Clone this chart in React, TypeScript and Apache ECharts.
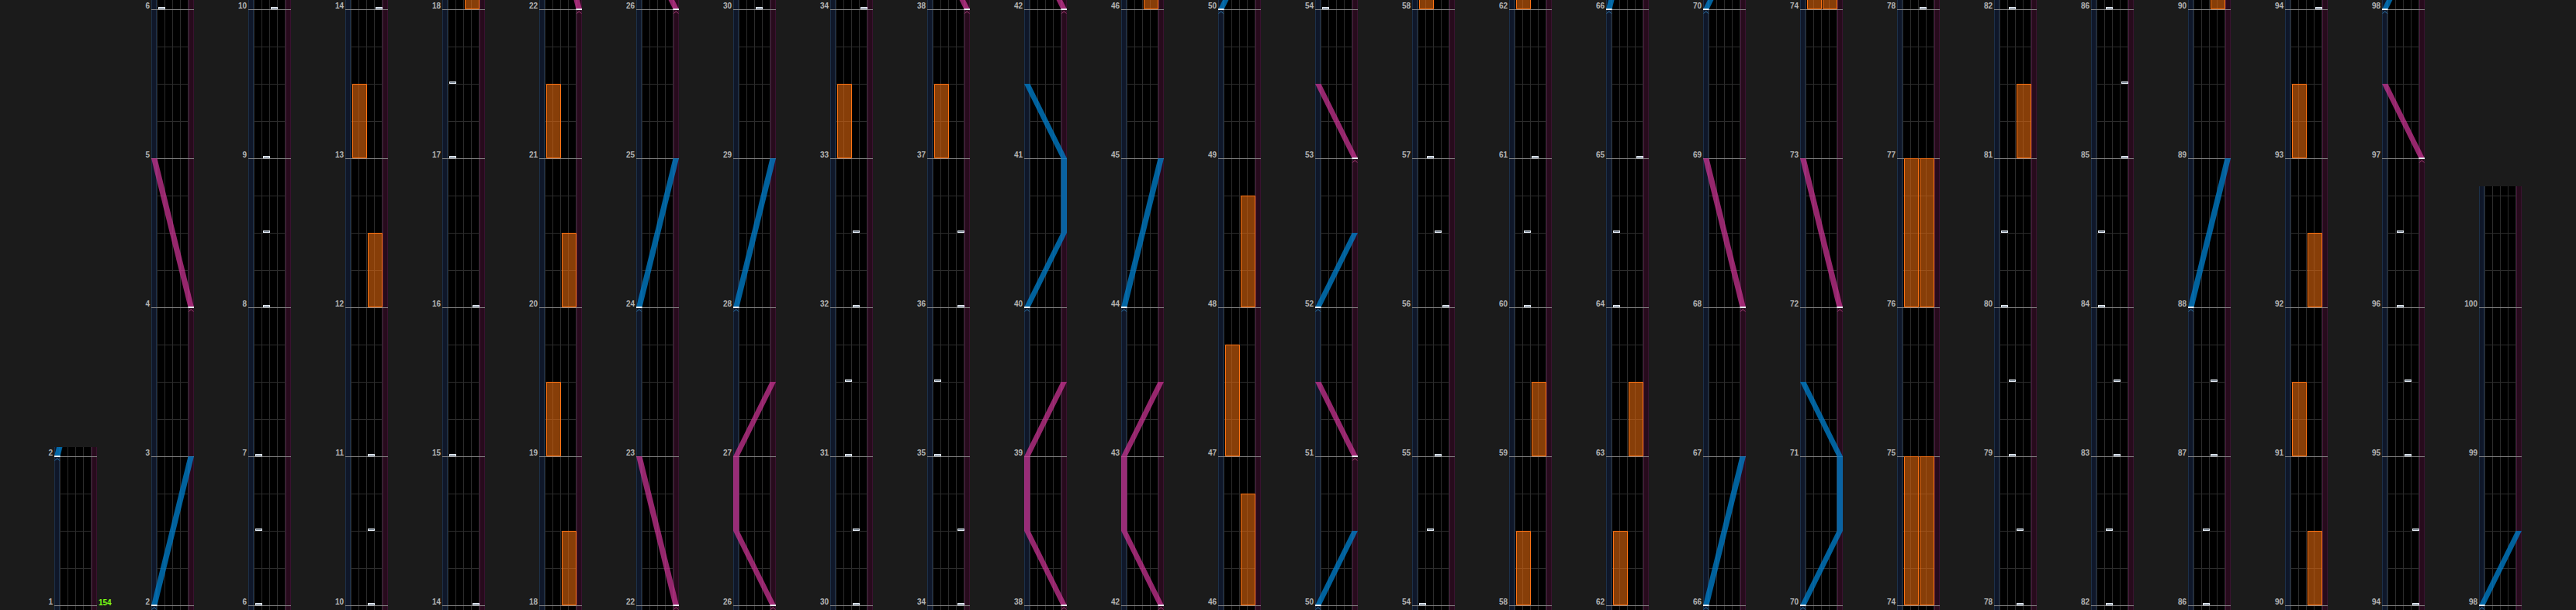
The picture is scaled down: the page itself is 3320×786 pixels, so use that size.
import React, { useEffect, useRef } from 'react';
import * as echarts from 'echarts';

// ---- chart data (measures) ----
const columnStarts = [1, 2, 6, 10, 14, 18, 22, 26, 30, 34, 38, 42, 46, 50, 54, 58, 62, 66, 70, 74, 78, 82, 86, 90, 94, 98];
const songEnd = 100.75;

// laser polylines: [measure, position 0(left)..1(right)]
const blueLasers: number[][][] = [
  [[2, 0], [3, 1]],
  [[24, 0], [25, 1]],
  [[28, 0], [29, 1]],
  [[40, 0], [40.5, 1], [41, 1], [41.5, 0]],
  [[44, 0], [45, 1]],
  [[50, 0], [50.5, 1]],
  [[52, 0], [52.5, 1]],
  [[66, 0], [67, 1]],
  [[70, 0], [70.5, 1], [71, 1], [71.5, 0]],
  [[88, 0], [89, 1]],
  [[98, 0], [98.5, 1]],
];
const pinkLasers: number[][][] = [
  [[4, 1], [5, 0]],
  [[22, 1], [23, 0]],
  [[26, 1], [26.5, 0], [27, 0], [27.5, 1]],
  [[38, 1], [38.5, 0], [39, 0], [39.5, 1]],
  [[42, 1], [42.5, 0], [43, 0], [43.5, 1]],
  [[51, 1], [51.5, 0]],
  [[53, 1], [53.5, 0]],
  [[68, 1], [69, 0]],
  [[72, 1], [73, 0]],
  [[97, 1], [97.5, 0]],
];
// FX holds: [start, end]
const fxLeft: number[][] = [
  [13, 13.5], [19, 19.5], [21, 21.5], [33, 33.5], [37, 37.5], [47, 47.75],
  [58, 58.5], [62, 62.5], [74, 75], [76, 77], [91, 91.5], [93, 93.5],
];
const fxRight: number[][] = [
  [12, 12.5], [18, 18.5], [20, 20.5], [46, 46.75], [48, 48.75], [59, 59.5],
  [63, 63.5], [74, 75], [76, 77], [81, 81.5], [90, 90.5], [92, 92.5],
];
// BT chips: [measure, lane 0..3]
const btChips: number[][] = [
  [6, 0], [6.5, 0], [7, 0], [8, 1], [8.5, 1], [9, 1], [10, 2], [10.5, 2], [11, 2],
  [14, 3], [15, 0], [16, 3], [17, 0], [17.5, 0],
  [30, 2], [30.5, 2], [31, 1], [31.5, 1], [32, 2], [32.5, 2],
  [34, 3], [34.5, 3], [35, 0], [35.5, 0], [36, 3], [36.5, 3],
  [54, 0], [54.5, 1], [55, 2], [56, 3], [56.5, 2], [57, 1],
  [60, 1], [60.5, 1], [61, 2], [64, 0], [64.5, 0], [65, 3],
  [78, 2], [78.5, 2], [79, 1], [79.5, 1], [80, 0], [80.5, 0],
  [82, 1], [82.5, 1], [83, 2], [83.5, 2], [84, 0], [84.5, 0], [85, 3], [85.5, 3],
  [86, 1], [86.5, 1], [87, 2], [87.5, 2],
  [94, 3], [94.5, 3], [95, 2], [95.5, 2], [96, 1], [96.5, 1],
];
const bpmChanges: number[][] = [[1, 154]];

// ---- layout / style constants ----
const X_MAX = 5.5;
const LANE_L = 0.75;
const LANE_R = 4.75;
const LASER_W = 0.75;
const laserX = (p: number) => LASER_W / 2 + p * (X_MAX - LASER_W);

const crisp = (v: number) => Math.floor(v) + 0.5;

function bgRender(params: any, api: any) {
  const lo = api.value(0);
  const hi = api.value(1);
  const cs = params.coordSys;
  const ch: any[] = [];
  ch.push({ type: 'rect', shape: { x: cs.x, y: cs.y, width: cs.width, height: cs.height }, style: { fill: '#000' } });
  const bl = api.coord([0, lo])[0];
  const l0 = api.coord([LANE_L, lo])[0];
  const l4 = api.coord([LANE_R, lo])[0];
  const pr = api.coord([X_MAX, lo])[0];
  ch.push({ type: 'rect', shape: { x: bl, y: cs.y, width: l0 - bl, height: cs.height }, style: { fill: '#0f1729' } });
  ch.push({ type: 'line', shape: { x1: crisp(bl), y1: cs.y, x2: crisp(bl), y2: cs.y + cs.height }, style: { stroke: '#1c3049', lineWidth: 1 } });
  ch.push({ type: 'line', shape: { x1: crisp(l0) - 1, y1: cs.y, x2: crisp(l0) - 1, y2: cs.y + cs.height }, style: { stroke: '#1c3049', lineWidth: 1 } });
  ch.push({ type: 'rect', shape: { x: l4, y: cs.y, width: pr - l4, height: cs.height }, style: { fill: '#270b1c' } });
  ch.push({ type: 'line', shape: { x1: crisp(l4) + 1, y1: cs.y, x2: crisp(l4) + 1, y2: cs.y + cs.height }, style: { stroke: '#45163a', lineWidth: 1 } });
  ch.push({ type: 'line', shape: { x1: crisp(pr) - 1, y1: cs.y, x2: crisp(pr) - 1, y2: cs.y + cs.height }, style: { stroke: '#3a1230', lineWidth: 1 } });
  for (let i = 0; i <= 4; i++) {
    const x = crisp(api.coord([LANE_L + i, lo])[0]);
    ch.push({ type: 'line', shape: { x1: x, y1: cs.y, x2: x, y2: cs.y + cs.height }, style: { stroke: '#2c2c2c', lineWidth: 1 } });
  }
  for (let q = Math.ceil(lo * 4); q <= Math.floor(hi * 4); q++) {
    const t = q / 4;
    const y = crisp(api.coord([0, t])[1]);
    if (q % 4 === 0) {
      ch.push({ type: 'line', shape: { x1: bl, y1: y, x2: pr, y2: y }, style: { stroke: '#8a8a8a', lineWidth: 1 }, z2: 10 });
    } else {
      ch.push({ type: 'line', shape: { x1: l0, y1: y, x2: l4, y2: y }, style: { stroke: '#2c2c2c', lineWidth: 1 } });
    }
  }
  return { type: 'group', children: ch };
}

function fxRender(params: any, api: any) {
  const side = api.value(0);
  const t0 = api.value(1);
  const t1 = api.value(2);
  const xa = LANE_L + side * 2;
  const p0 = api.coord([xa, t0]);
  const p1 = api.coord([xa + 2, t1]);
  const x = Math.round(p0[0]) + 1.5;
  const w = Math.round(p1[0]) - Math.round(p0[0]) - 2;
  const yTop = Math.round(p1[1]) + 0.5;
  const h = Math.round(p0[1]) - Math.round(p1[1]) - 1;
  return {
    type: 'rect',
    shape: { x, y: yTop, width: w, height: h },
    style: { fill: 'rgba(232,106,14,0.58)', stroke: '#ff7414', lineWidth: 1 },
  };
}

function chipRender(params: any, api: any) {
  const t = api.value(0);
  const lane = api.value(1);
  const a = api.coord([LANE_L + lane, t]);
  const b = api.coord([LANE_L + lane + 1, t]);
  const x = Math.round(a[0]) + 1;
  const w = Math.round(b[0]) - Math.round(a[0]) - 1;
  const y = Math.round(a[1]);
  return {
    type: 'group',
    children: [
      { type: 'rect', shape: { x, y: y - 3, width: w, height: 3 }, style: { fill: '#e4ebf3' } },
      { type: 'rect', shape: { x: x + 1, y: y - 2, width: w - 2, height: 1 }, style: { fill: '#6f7d8c' } },
    ],
  };
}

function makeLaserRender(lines: number[][][], fill: string, mark: string) {
  return (params: any, api: any) => {
    const line = lines[api.value(0)];
    const left: number[][] = [];
    const right: number[][] = [];
    line.forEach(([t, p]) => {
      const cx = laserX(p);
      left.push(api.coord([cx - LASER_W / 2, t]));
      right.push(api.coord([cx + LASER_W / 2, t]));
    });
    const pts = left.concat(right.slice().reverse());
    const s = left[0];
    const e = right[0];
    const cx = (s[0] + e[0]) / 2;
    const y = Math.round(s[1]);
    return {
      type: 'group',
      children: [
        { type: 'polygon', shape: { points: pts }, style: { fill } },
        { type: 'rect', shape: { x: s[0], y: y - 1, width: e[0] - s[0], height: 2 }, style: { fill: '#e8eef5' } },
        { type: 'polyline', shape: { points: [[cx - 3, y + 5.5], [cx, y + 2.5], [cx + 3, y + 5.5]] }, style: { stroke: mark, lineWidth: 1, fill: 'none' } },
      ],
    };
  };
}

function bpmRender(params: any, api: any) {
  const t = api.value(0);
  const bpm = api.value(1);
  const p = api.coord([X_MAX, t]);
  return {
    type: 'text',
    style: {
      x: p[0] + 2, y: p[1] + 1, text: String(bpm), fill: '#7dff14',
      fontSize: 10, fontWeight: 'bold', fontFamily: 'Liberation Sans',
      align: 'left', verticalAlign: 'bottom',
    },
  };
}

const isInt = (v: number) => Math.abs(v - Math.round(v)) < 1e-6;

function buildOption() {
  const grid: any[] = [];
  const xAxis: any[] = [];
  const yAxis: any[] = [];
  const series: any[] = [];
  const blueFill = 'rgba(0,128,205,0.76)';
  const pinkFill = 'rgba(206,52,150,0.72)';
  columnStarts.forEach((start, k) => {
    const end = k + 1 < columnStarts.length ? columnStarts[k + 1] : songEnd;
    const lo = start - 1 / 32;
    const hi = end + 2 / 32;
    grid.push({ left: 70 + 125 * k, width: 55, bottom: 0, height: (hi - lo) * 192, outerBoundsMode: 'none' });
    xAxis.push({ gridIndex: k, type: 'value', min: 0, max: X_MAX, show: false });
    yAxis.push({
      gridIndex: k, type: 'value', min: lo, max: hi, interval: 1 / 32,
      axisLine: { show: false }, axisTick: { show: false }, splitLine: { show: false },
      axisLabel: {
        show: true, margin: 2, color: '#b4b4b4', fontSize: 10, fontWeight: 'bold',
        fontFamily: 'Liberation Sans', verticalAlign: 'bottom', lineHeight: 10,
        formatter: (v: number) => (isInt(v) ? String(Math.round(v)) : ''),
      },
    });
    const ax = { xAxisIndex: k, yAxisIndex: k, silent: true, clip: true };
    series.push({ type: 'custom', ...ax, z: 1, data: [[lo, hi]], renderItem: bgRender });
    const fxData: number[][] = [];
    fxLeft.forEach(([a, b]) => { if (b >= lo && a <= hi) fxData.push([0, a, b]); });
    fxRight.forEach(([a, b]) => { if (b >= lo && a <= hi) fxData.push([1, a, b]); });
    series.push({ type: 'custom', ...ax, z: 2, data: fxData, renderItem: fxRender });
    series.push({
      type: 'custom', ...ax, z: 3,
      data: btChips.filter(([t]) => t >= lo - 0.05 && t <= hi + 0.05),
      renderItem: chipRender,
    });
    const inRange = (l: number[][]) => l[l.length - 1][0] >= lo && l[0][0] <= hi + 0.05;
    series.push({
      type: 'custom', ...ax, z: 4,
      data: blueLasers.map((l, i) => (inRange(l) ? [i] : null)).filter((d) => d !== null),
      renderItem: makeLaserRender(blueLasers, blueFill, '#2f7fb8'),
    });
    series.push({
      type: 'custom', ...ax, z: 4,
      data: pinkLasers.map((l, i) => (inRange(l) ? [i] : null)).filter((d) => d !== null),
      renderItem: makeLaserRender(pinkLasers, pinkFill, '#b4407f'),
    });
    const bpmData = bpmChanges.filter(([t]) => t >= start && t < end);
    if (bpmData.length) {
      series.push({ type: 'custom', xAxisIndex: k, yAxisIndex: k, silent: true, clip: false, z: 6, data: bpmData, renderItem: bpmRender });
    }
  });
  return {
    backgroundColor: '#1b1b1b',
    animation: false,
    grid, xAxis, yAxis, series,
  };
}

export default function App() {
  const ref = useRef<HTMLDivElement>(null);
  useEffect(() => {
    const chart = echarts.init(ref.current!, null, { renderer: 'svg' });
    chart.setOption(buildOption() as any);
    return () => chart.dispose();
  }, []);
  return <div ref={ref} style={{ position: 'absolute', left: 0, top: 0, width: 3320, height: 786 }} />;
}
